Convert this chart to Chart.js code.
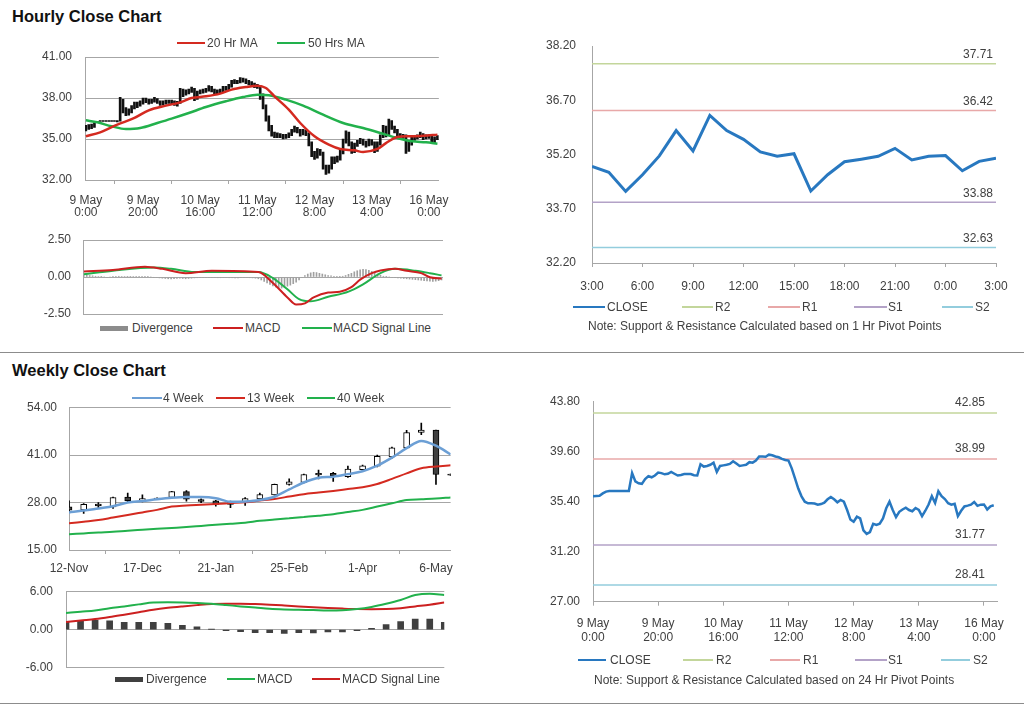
<!DOCTYPE html>
<html>
<head>
<meta charset="utf-8">
<script src="https://cdn.jsdelivr.net/npm/chart.js@4.4.1/dist/chart.umd.min.js"></script>
<style>
body { margin: 0; background: #fff; }
#page { position: relative; width: 1024px; height: 706px; overflow: hidden; font-family: "Liberation Sans", Arial, sans-serif; color: #404040; }
canvas { position: absolute; }
.title { position: absolute; left: 12px; font-weight: bold; font-size: 16.5px; line-height: 19px; color: #111; }
.lg { position: absolute; display: flex; align-items: center; height: 14px; font-size: 12px; white-space: nowrap; }
.lg i { display: inline-block; height: 2px; }
.note { position: absolute; font-size: 12px; line-height: 14px; white-space: nowrap; }
.sep { position: absolute; left: 0; width: 1024px; height: 1px; background: #8c8c8c; }
</style>
</head>
<body>
<div id="page">
  <div class="title" style="top:7px">Hourly Close Chart</div>
  <div class="title" style="top:361px">Weekly Close Chart</div>
  <div class="sep" style="top:352px"></div>
  <div class="sep" style="top:703px"></div>

  <canvas id="cHour" width="460" height="225" style="left:0;top:0"></canvas>
  <canvas id="cHourMacd" width="460" height="90" style="left:0;top:230px"></canvas>
  <canvas id="cPivotHour" width="504" height="300" style="left:520px;top:30px"></canvas>
  <canvas id="cWeek" width="460" height="200" style="left:0;top:380px"></canvas>
  <canvas id="cWeekMacd" width="460" height="90" style="left:0;top:585px"></canvas>
  <canvas id="cPivotDay" width="504" height="300" style="left:520px;top:380px"></canvas>

  <!-- legends -->
  <div class="lg" style="left:177px;top:36px"><i style="width:28px;margin-right:2px;background:#d42a20;height:2px"></i>20 Hr MA</div>
  <div class="lg" style="left:277px;top:36px"><i style="width:28px;margin-right:3px;background:#22b14c;height:2px"></i>50 Hrs MA</div>

  <div class="lg" style="left:100px;top:321px"><i style="width:28px;margin-right:4px;background:#8c8c8c;height:5px"></i>Divergence</div>
  <div class="lg" style="left:213px;top:321px"><i style="width:30px;margin-right:2px;background:#cc2020"></i>MACD</div>
  <div class="lg" style="left:302px;top:321px"><i style="width:30px;margin-right:1px;background:#22b14c"></i>MACD Signal Line</div>

  <div class="lg" style="left:573px;top:300px"><i style="width:32px;margin-right:2px;background:#2878c0;height:2.5px"></i>CLOSE</div>
  <div class="lg" style="left:682px;top:300px"><i style="width:31px;margin-right:2px;background:#c3d69b;height:1.5px"></i>R2</div>
  <div class="lg" style="left:768px;top:300px"><i style="width:32px;margin-right:2px;background:#e8a8a8;height:1.5px"></i>R1</div>
  <div class="lg" style="left:854px;top:300px"><i style="width:33px;margin-right:1px;background:#b3a2c7;height:1.5px"></i>S1</div>
  <div class="lg" style="left:942px;top:300px"><i style="width:31px;margin-right:2px;background:#93cddd;height:1.5px"></i>S2</div>
  <div class="note" style="left:588px;top:319px">Note: Support &amp; Resistance Calculated based on 1 Hr Pivot Points</div>

  <div class="lg" style="left:132px;top:391px"><i style="width:30px;margin-right:1px;background:#6c9fd5"></i>4 Week</div>
  <div class="lg" style="left:216px;top:391px"><i style="width:29px;margin-right:2px;background:#d42a20"></i>13 Week</div>
  <div class="lg" style="left:307px;top:391px"><i style="width:28px;margin-right:2px;background:#22b14c"></i>40 Week</div>

  <div class="lg" style="left:115px;top:672px"><i style="width:28px;margin-right:3px;background:#404040;height:5px"></i>Divergence</div>
  <div class="lg" style="left:227px;top:672px"><i style="width:28px;margin-right:2px;background:#22b14c"></i>MACD</div>
  <div class="lg" style="left:312px;top:672px"><i style="width:28px;margin-right:2px;background:#cc2020"></i>MACD Signal Line</div>

  <div class="lg" style="left:578px;top:653px"><i style="width:28px;margin-right:4px;background:#2878c0;height:2.5px"></i>CLOSE</div>
  <div class="lg" style="left:683px;top:653px"><i style="width:30px;margin-right:3px;background:#c3d69b;height:1.5px"></i>R2</div>
  <div class="lg" style="left:770px;top:653px"><i style="width:30px;margin-right:3px;background:#e8a8a8;height:1.5px"></i>R1</div>
  <div class="lg" style="left:855px;top:653px"><i style="width:32px;margin-right:1px;background:#b3a2c7;height:1.5px"></i>S1</div>
  <div class="lg" style="left:941px;top:653px"><i style="width:29px;margin-right:3px;background:#93cddd;height:1.5px"></i>S2</div>
  <div class="note" style="left:594px;top:673px">Note: Support &amp; Resistance Calculated based on 24 Hr Pivot Points</div>
</div>

<script>
// ---- hourly data (one value per trading hour, index 0 = 9 May 0:00) ----
const hourClose = [
  35.85, 35.88, 35.9, 36.1, 36.25, 36.3, 36.3, 36.3, 36.3, 36.3,
  36.3, 36.3, 37.8, 37.1, 36.95, 36.9, 37.3, 37.55, 37.45, 37.6,
  37.85, 37.8, 37.7, 37.75, 37.9, 37.75, 37.6, 37.65, 37.72, 37.72,
  37.72, 37.62, 37.6, 38.55, 38.35, 38.4, 38.5, 38.68, 37.9, 38.4,
  38.45, 38.5, 38.57, 38.8, 38.6, 38.4, 38.45, 38.5, 38.72, 38.68,
  38.85, 39.2, 39.2, 39.18, 39.35, 39.3, 39.2, 39.13, 39.0, 38.9,
  38.85, 38.2, 37.36, 36.5, 35.85, 35.4, 35.26, 35.26, 35.25, 35.15,
  35.2, 35.32, 35.6, 35.8, 35.6, 35.35, 35.55, 35.4, 34.7, 33.9,
  33.72, 34.14, 34.0, 33.0, 32.7, 32.85, 33.55, 33.45, 33.55, 34.0,
  34.85, 35.4, 34.7, 34.1, 34.55, 34.75, 34.9, 34.7, 34.6, 34.87,
  34.71, 34.18, 34.64, 35.16, 35.86, 35.3, 36.28, 35.86, 35.62, 35.27,
  35.15, 35.22, 34.19, 34.64, 35.0, 35.07, 35.15, 35.37, 35.05, 35.15,
  35.17, 34.75, 35.01, 35.1
];
const hourHigh = [
  36.0, 36.05, 36.1, 36.2, 36.3, 36.32, 36.32, 36.32, 36.32, 36.32,
  36.32, 36.35, 38.05, 37.9, 37.3, 37.2, 37.45, 37.7, 37.7, 37.8,
  38.0, 38.0, 37.9, 37.9, 38.05, 37.95, 37.8, 37.8, 37.85, 37.85,
  37.85, 37.8, 37.75, 38.7, 38.65, 38.6, 38.65, 38.8, 38.7, 38.5,
  38.6, 38.65, 38.7, 38.9, 38.85, 38.65, 38.6, 38.65, 38.85, 38.85,
  39.0, 39.3, 39.35, 39.3, 39.5, 39.45, 39.4, 39.3, 39.2, 39.1,
  39.0, 38.9, 38.3, 37.5, 36.7, 36.0, 35.5, 35.45, 35.4, 35.35,
  35.35, 35.45, 35.7, 35.95, 35.85, 35.7, 35.7, 35.65, 35.45, 34.8,
  34.1, 34.3, 34.25, 34.05, 33.1, 33.1, 33.7, 33.7, 33.75, 34.2,
  35.0, 35.6, 35.5, 34.8, 34.7, 34.9, 35.05, 35.0, 34.85, 35.0,
  34.95, 34.8, 34.8, 35.3, 36.0, 35.95, 36.45, 36.35, 35.95, 35.7,
  35.4, 35.35, 35.3, 34.8, 35.15, 35.2, 35.3, 35.5, 35.4, 35.3,
  35.3, 35.2, 35.15, 35.25
];
const hourLow = [
  35.6, 35.7, 35.75, 35.85, 36.2, 36.28, 36.28, 36.28, 36.28, 36.28,
  36.28, 36.25, 36.3, 36.9, 36.7, 36.75, 36.9, 37.2, 37.3, 37.4,
  37.55, 37.65, 37.55, 37.6, 37.7, 37.6, 37.45, 37.5, 37.55, 37.6,
  37.55, 37.45, 37.4, 37.6, 38.1, 38.2, 38.3, 38.4, 37.8, 37.9,
  38.3, 38.35, 38.4, 38.5, 38.45, 38.3, 38.3, 38.35, 38.45, 38.55,
  38.6, 38.8, 39.05, 39.05, 39.1, 39.15, 39.05, 38.95, 38.85, 38.75,
  38.7, 37.9, 37.2, 36.3, 35.6, 35.2, 35.1, 35.1, 35.1, 35.0,
  35.05, 35.1, 35.25, 35.5, 35.45, 35.2, 35.3, 35.25, 34.5, 33.7,
  33.5, 33.6, 33.8, 32.8, 32.4, 32.5, 32.8, 33.2, 33.3, 33.45,
  33.9, 34.7, 34.5, 33.95, 34.0, 34.45, 34.65, 34.55, 34.4, 34.5,
  34.55, 34.0, 34.1, 34.55, 35.1, 35.15, 35.25, 35.7, 35.45, 35.1,
  35.0, 35.05, 33.95, 34.1, 34.55, 34.9, 35.0, 35.1, 34.95, 35.0,
  35.05, 34.65, 34.7, 34.95
];
// moving averages read at key hours
const ma20X = [0, 5, 11, 17, 22, 28, 33, 37, 42, 47, 51, 56, 60, 63, 66, 71, 75, 80, 85, 89, 94, 97, 102, 105, 109, 113, 118, 123];
const ma20Y = [35.2, 35.49, 36.05, 36.54, 37.1, 37.44, 37.68, 38.0, 38.12, 38.32, 38.61, 38.8, 38.9, 38.73, 38.12, 37.15, 36.17, 35.2, 34.59, 34.27, 34.17, 34.05, 34.27, 34.7, 35.15, 35.2, 35.24, 35.32];
const ma50X = [0, 4, 9, 14, 19, 25, 30, 36, 42, 49, 55, 60, 64, 70, 76, 83, 90, 97, 103, 109, 114, 119, 123];
const ma50Y = [36.37, 36.22, 35.93, 35.73, 35.8, 36.17, 36.49, 36.9, 37.34, 37.76, 38.07, 38.24, 38.2, 37.88, 37.44, 36.78, 36.17, 35.8, 35.44, 35.07, 34.83, 34.76, 34.66];
// hourly MACD
const hMacdX = [0, 10, 21, 27, 35, 44, 60, 65, 70, 73, 76, 79, 84, 88, 92, 95, 99, 102, 107, 111, 116, 119, 123];
const hMacdY = [0.37, 0.48, 0.7, 0.55, 0.26, 0.42, 0.33, -0.4, -1.38, -1.86, -1.78, -1.38, -1.05, -0.99, -0.68, -0.18, 0.26, 0.44, 0.55, 0.42, 0.26, -0.02, -0.11];
const hSignalX = [0, 10, 24, 30, 38, 60, 65, 70, 74, 78, 84, 91, 96, 102, 107, 114, 119, 123];
const hSignalY = [0.18, 0.42, 0.64, 0.55, 0.33, 0.33, -0.07, -0.83, -1.49, -1.64, -1.34, -0.99, -0.5, 0.26, 0.55, 0.42, 0.26, 0.11];
const hDivergence = [
  0.1, 0.12, 0.1, 0.08, 0.05, 0.03, 0.02, 0, -0.02, 0,
  0.02, 0.03, 0.05, 0.04, 0.03, 0.02, 0.02, 0.03, 0.04, 0.05,
  0.04, 0.03, 0.02, 0, -0.02, -0.04, -0.06, -0.08, -0.1, -0.12,
  -0.13, -0.12, -0.1, -0.08, -0.1, -0.12, -0.1, -0.08, -0.06, -0.05,
  -0.04, -0.03, -0.02, -0.02, -0.03, -0.04, -0.05, -0.05, -0.04, -0.04,
  -0.05, -0.05, -0.06, -0.06, -0.05, -0.04, -0.04, -0.05, -0.06, -0.08,
  -0.12, -0.2, -0.3, -0.4, -0.5, -0.6, -0.68, -0.72, -0.75, -0.7,
  -0.62, -0.55, -0.45, -0.35, -0.2, -0.05, 0.1, 0.2, 0.28, 0.32,
  0.3, 0.25, 0.2, 0.15, 0.1, 0.08, 0.05, 0.03, 0.02, 0.05,
  0.1, 0.18, 0.25, 0.35, 0.42, 0.48, 0.52, 0.5, 0.45, 0.38,
  0.3, 0.2, 0.12, 0.05, 0.02, 0, -0.02, -0.04, -0.06, -0.08,
  -0.1, -0.12, -0.14, -0.16, -0.18, -0.2, -0.22, -0.24, -0.26, -0.28,
  -0.3, -0.28, -0.25, -0.2
];
const hourTickIdx = [0, 20, 40, 60, 80, 100, 120];
const hourTickLabels = [['9 May', '0:00'], ['9 May', '20:00'], ['10 May', '16:00'], ['11 May', '12:00'], ['12 May', '8:00'], ['13 May', '4:00'], ['16 May', '0:00']];
const hourPriceTicks = [32, 35, 38, 41];

// pivot levels
const pivot1h = { R2: 37.71, R1: 36.42, S1: 33.88, S2: 32.63 };
const pivot24h = { R2: 42.85, R1: 38.99, S1: 31.77, S2: 28.41 };
const lastHoursStart = 99; // last 25 hours shown in the 1 hr pivot chart
const lastHoursTickIdx = [0, 3, 6, 9, 12, 15, 18, 21, 24];
const lastHoursTickLabels = ['3:00', '6:00', '9:00', '12:00', '15:00', '18:00', '21:00', '0:00', '3:00'];
const pivot1hTicks = [32.2, 33.7, 35.2, 36.7, 38.2];
const pivot24hTicks = [27.0, 31.2, 35.4, 39.6, 43.8];

// ---- weekly data (index 0 = 12-Nov) ----
const weekOpen  = [26.8, 26.0, 27.6, 26.8, 29.5, 28.5, 29.1, 29.4, 31.0, 28.8, 28.5, 27.5, 28.0, 29.0, 30.1, 33.0, 33.5, 36.0, 36.0, 35.1, 37.0, 38.0, 40.5, 43.0, 47.2, 47.9, 35.8];
const weekHigh  = [28.5, 27.7, 28.0, 29.5, 30.6, 30.1, 29.3, 31.1, 31.3, 29.0, 28.6, 28.4, 29.4, 30.6, 33.1, 34.5, 35.8, 36.9, 36.3, 38.0, 38.3, 41.0, 43.2, 47.8, 49.8, 47.9, 35.9];
const weekLow   = [25.5, 25.0, 26.6, 26.4, 28.2, 28.2, 29.0, 29.3, 28.4, 28.0, 27.0, 26.6, 27.2, 28.9, 30.0, 32.8, 33.4, 34.5, 33.8, 34.9, 36.5, 37.8, 40.2, 42.8, 46.6, 33.0, 35.4];
const weekClose = [25.9, 27.5, 27.1, 29.4, 28.5, 29.1, 29.2, 31.0, 28.9, 28.3, 27.5, 28.2, 29.1, 30.2, 33.0, 33.7, 35.7, 35.6, 35.4, 37.2, 38.1, 40.7, 43.0, 47.2, 47.9, 35.7, 35.5];
const ma4w  = [25.3, 25.8, 26.4, 27.0, 28.0, 28.4, 28.9, 29.3, 29.5, 29.5, 29.2, 28.2, 28.3, 28.7, 29.6, 31.6, 33.5, 34.8, 35.1, 35.8, 36.6, 38.1, 40.3, 42.9, 44.9, 43.6, 41.2];
const ma13w = [22.3, 22.75, 23.2, 23.9, 24.6, 25.3, 26.0, 26.9, 27.2, 27.4, 27.6, 27.85, 28.1, 28.55, 29.0, 29.65, 30.3, 30.75, 31.2, 31.7, 32.2, 33.1, 34.5, 36.0, 37.4, 37.9, 38.2];
const ma40w = [19.3, 19.55, 19.8, 20.0, 20.3, 20.55, 20.8, 21.05, 21.3, 21.6, 21.9, 22.2, 22.5, 23.0, 23.35, 23.7, 24.05, 24.4, 24.8, 25.4, 26.0, 26.9, 27.8, 28.7, 28.9, 29.1, 29.4];
const wMacd   = [2.63, 2.85, 3.05, 3.4, 3.68, 4.0, 4.3, 4.32, 4.3, 4.22, 4.1, 3.9, 3.68, 3.5, 3.3, 3.2, 3.15, 3.1, 3.05, 3.08, 3.26, 3.6, 4.1, 4.7, 5.47, 5.68, 5.47];
const wSignal = [1.2, 1.45, 1.68, 2.0, 2.37, 2.75, 3.15, 3.45, 3.68, 3.88, 4.05, 4.1, 4.1, 4.05, 3.95, 3.82, 3.68, 3.55, 3.42, 3.33, 3.26, 3.24, 3.26, 3.4, 3.68, 3.95, 4.3];
const wDivergence = [1.3, 1.47, 1.47, 1.42, 1.16, 1.16, 1.16, 1.0, 0.68, 0.47, 0.05, -0.15, -0.3, -0.45, -0.45, -0.6, -0.45, -0.5, -0.35, -0.35, -0.15, 0.2, 0.8, 1.3, 1.68, 1.68, 1.16];
const weekTickIdx = [0, 5, 10, 15, 20, 25];
const weekTickLabels = ['12-Nov', '17-Dec', '21-Jan', '25-Feb', '1-Apr', '6-May'];
const weekPriceTicks = [15, 28, 41, 54];

// ---- shared settings ----
Chart.defaults.font.family = '"Liberation Sans", Arial, sans-serif';
Chart.defaults.font.size = 12;
Chart.defaults.color = '#404040';
Chart.defaults.animation = false;
Chart.defaults.plugins.legend.display = false;
Chart.defaults.plugins.tooltip.enabled = false;

const GRID = '#a6a6a6';
const fixedWidth = w => s => { s.width = w; };
const fixedHeight = h => s => { s.height = h; };
const forceTicks = values => s => { s.ticks = values.map(v => ({ value: v })); };
const pts = (xs, ys) => xs.map((x, i) => ({ x: x, y: ys[i] }));
const flat = (v, x0, x1) => [{ x: x0, y: v }, { x: x1, y: v }];

// y axis: gap between labels and axis comes from an invisible tick mark,
// so that it does not also push the plot area down
function yAxis(min, max, ticks, width, gap, gridOnArea) {
  return {
    min: min, max: max,
    afterBuildTicks: forceTicks(ticks), afterFit: fixedWidth(width),
    grid: { color: GRID, drawOnChartArea: gridOnArea, drawTicks: true, tickLength: gap, tickColor: 'rgba(0,0,0,0)' },
    border: { color: GRID },
    ticks: { padding: 0, font: { lineHeight: 1 }, callback: v => v.toFixed(2) }
  };
}
function xAxis(min, max, tickIdx, labels, height, pad, lineHeight) {
  return {
    type: 'linear', min: min, max: max, offset: false,
    afterBuildTicks: forceTicks(tickIdx), afterFit: fixedHeight(height),
    grid: { drawOnChartArea: false, color: GRID, tickLength: 4 },
    border: { color: GRID },
    ticks: { autoSkip: false, maxRotation: 0, padding: pad, font: { lineHeight: lineHeight },
             callback: (v, i) => labels[i] }
  };
}

// value labels drawn above the pivot lines, at the right end
const pivotLabels = {
  id: 'pivotLabels',
  afterDatasetsDraw(chart, args, opts) {
    const { ctx, chartArea, scales } = chart;
    ctx.save();
    ctx.font = '12px "Liberation Sans", Arial, sans-serif';
    ctx.fillStyle = '#404040';
    ctx.textAlign = 'right';
    ctx.textBaseline = 'middle';
    opts.values.forEach(v => {
      ctx.fillText(v.toFixed(2), chartArea.right - opts.right, scales.y.getPixelForValue(v) - opts.up);
    });
    ctx.restore();
  }
};

function lineSet(data, color, width, order) {
  return { type: 'line', data: data, borderColor: color, borderWidth: width, pointRadius: 0,
           tension: 0.4, cubicInterpolationMode: 'monotone', fill: false, order: order };
}

// ---- hourly close with moving averages ----
new Chart(document.getElementById('cHour'), {
  data: {
    datasets: [
      lineSet(pts(ma20X, ma20Y), '#d42a20', 2.5, 1),
      lineSet(pts(ma50X, ma50Y), '#22b14c', 2.5, 2),
      { type: 'bar', data: hourHigh.map((h, i) => ({ x: i, y: [hourLow[i], h] })),
        backgroundColor: '#111', barThickness: 2, minBarLength: 1, grouped: false, order: 3 }
    ]
  },
  options: {
    responsive: false,
    layout: { padding: { top: 57, right: 17, left: 0, bottom: 0 } },
    scales: {
      x: xAxis(-0.3, 123.5, hourTickIdx, hourTickLabels, 45, 11, 1.0),
      y: yAxis(32, 41, hourPriceTicks, 85, 13, true)
    }
  }
});

// ---- hourly MACD ----
new Chart(document.getElementById('cHourMacd'), {
  data: {
    datasets: [
      lineSet(pts(hMacdX, hMacdY), '#cc2020', 2, 1),
      lineSet(pts(hSignalX, hSignalY), '#22b14c', 2, 2),
      { type: 'bar', data: hDivergence.map((v, i) => ({ x: i, y: v })),
        backgroundColor: '#a0a0a0', barThickness: 1, grouped: false, order: 3 }
    ]
  },
  options: {
    responsive: false,
    layout: { padding: { top: 10, right: 17, left: 0, bottom: 5 } },
    scales: {
      x: { type: 'linear', min: -0.3, max: 123.5, offset: false, display: false },
      y: yAxis(-2.5, 2.5, [-2.5, 0, 2.5], 83, 12, true)
    }
  }
});

// ---- last 25 hours with 1 hr pivot points ----
const lastHours = hourClose.slice(lastHoursStart);
new Chart(document.getElementById('cPivotHour'), {
  data: {
    datasets: [
      { type: 'line', data: lastHours.map((v, i) => ({ x: i, y: v })), borderColor: '#2878c0',
        borderWidth: 3, pointRadius: 0, tension: 0, order: 1 },
      { type: 'line', data: flat(pivot1h.R2, 0, 24), borderColor: '#c3d69b', borderWidth: 1.5, pointRadius: 0, order: 2 },
      { type: 'line', data: flat(pivot1h.R1, 0, 24), borderColor: '#e8a8a8', borderWidth: 1.5, pointRadius: 0, order: 2 },
      { type: 'line', data: flat(pivot1h.S1, 0, 24), borderColor: '#b3a2c7', borderWidth: 1.5, pointRadius: 0, order: 2 },
      { type: 'line', data: flat(pivot1h.S2, 0, 24), borderColor: '#93cddd', borderWidth: 1.5, pointRadius: 0, order: 2 }
    ]
  },
  options: {
    responsive: false,
    layout: { padding: { top: 16, right: 28, left: 0, bottom: 0 } },
    plugins: { pivotLabels: { values: Object.values(pivot1h), right: 3, up: 9 } },
    scales: {
      x: xAxis(0, 24, lastHoursTickIdx, lastHoursTickLabels, 67, 12, 1.2),
      y: yAxis(32.2, 38.2, pivot1hTicks, 72, 16, false)
    }
  },
  plugins: [pivotLabels]
});

// ---- weekly candles with moving averages ----
new Chart(document.getElementById('cWeek'), {
  data: {
    datasets: [
      lineSet(ma4w.map((v, i) => ({ x: i, y: v })), '#6c9fd5', 2.5, 1),
      lineSet(ma13w.map((v, i) => ({ x: i, y: v })), '#d42a20', 2, 2),
      lineSet(ma40w.map((v, i) => ({ x: i, y: v })), '#22b14c', 2, 3),
      { type: 'bar', data: weekOpen.map((o, i) => ({ x: i, y: [o, weekClose[i]] })),
        backgroundColor: weekOpen.map((o, i) => weekClose[i] >= o ? '#ffffff' : '#404040'),
        borderColor: '#000', borderWidth: 1, borderSkipped: false,
        barThickness: 6, grouped: false, order: 4 },
      { type: 'bar', data: weekLow.map((l, i) => ({ x: i, y: [l, weekHigh[i]] })),
        backgroundColor: '#000', barThickness: 1, grouped: false, order: 5 }
    ]
  },
  options: {
    responsive: false,
    layout: { padding: { top: 27.7, right: 9.3, left: 0, bottom: 0 } },
    scales: {
      x: xAxis(0, 26, weekTickIdx, weekTickLabels, 30, 7, 1.2),
      y: yAxis(15, 54, weekPriceTicks, 69, 12, true)
    }
  }
});

// ---- weekly MACD ----
new Chart(document.getElementById('cWeekMacd'), {
  data: {
    datasets: [
      lineSet(wMacd.map((v, i) => ({ x: i, y: v })), '#22b14c', 2, 1),
      lineSet(wSignal.map((v, i) => ({ x: i, y: v })), '#cc2020', 2, 2),
      { type: 'bar', data: wDivergence.map((v, i) => ({ x: i, y: v })),
        backgroundColor: '#404040', barThickness: 6, grouped: false, order: 3 }
    ]
  },
  options: {
    responsive: false,
    layout: { padding: { top: 6.7, right: 15.7, left: 0, bottom: 7.3 } },
    scales: {
      x: { type: 'linear', min: 0, max: 26, offset: false, display: false },
      y: yAxis(-6, 6, [-6, 0, 6], 66, 13, true)
    }
  }
});

// ---- all hours with 24 hr pivot points ----
new Chart(document.getElementById('cPivotDay'), {
  data: {
    datasets: [
      { type: 'line', data: hourClose.map((v, i) => ({ x: i, y: v })), borderColor: '#2878c0',
        borderWidth: 2.5, pointRadius: 0, tension: 0, order: 1 },
      { type: 'line', data: flat(pivot24h.R2, 0, 124), borderColor: '#c3d69b', borderWidth: 1.5, pointRadius: 0, order: 2 },
      { type: 'line', data: flat(pivot24h.R1, 0, 124), borderColor: '#e8a8a8', borderWidth: 1.5, pointRadius: 0, order: 2 },
      { type: 'line', data: flat(pivot24h.S1, 0, 124), borderColor: '#b3a2c7', borderWidth: 1.5, pointRadius: 0, order: 2 },
      { type: 'line', data: flat(pivot24h.S2, 0, 124), borderColor: '#93cddd', borderWidth: 1.5, pointRadius: 0, order: 2 }
    ]
  },
  options: {
    responsive: false,
    layout: { padding: { top: 21.7, right: 27, left: 0, bottom: 0 } },
    plugins: { pivotLabels: { values: Object.values(pivot24h), right: 12, up: 10 } },
    scales: {
      x: xAxis(0, 124, hourTickIdx, hourTickLabels, 78.3, 11, 1.15),
      y: yAxis(27, 43.8, pivot24hTicks, 73, 13, false)
    }
  },
  plugins: [pivotLabels]
});
</script>
</body>
</html>
